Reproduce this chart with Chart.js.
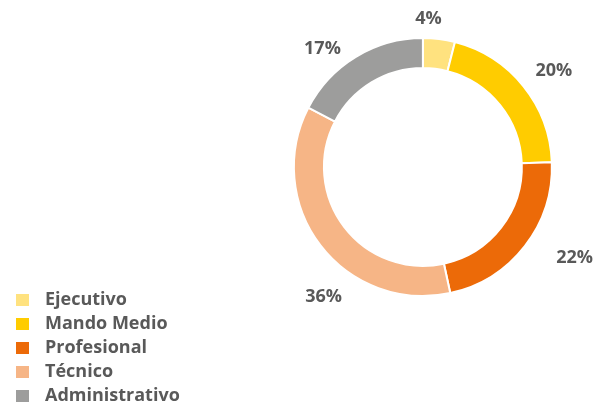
<!DOCTYPE html>
<html>
<head>
<meta charset="utf-8">
<script src="https://cdn.jsdelivr.net/npm/chart.js@4/dist/chart.umd.min.js"></script>
<style>
  html, body { margin: 0; padding: 0; background: #ffffff; overflow: hidden; }
  #wrap { width: 656px; height: 411px; position: relative; }
</style>
</head>
<body>
<div id="wrap"><canvas id="c"></canvas></div>
<script>
// ---- data ----
const categories = ['Ejecutivo', 'Mando Medio', 'Profesional', 'Técnico', 'Administrativo'];
const shares = [4.0, 20.4, 22.2, 36.0, 17.4];
const colors = ['#FFE27F', '#FFCC00', '#EC6A08', '#F6B586', '#9D9D9C'];
// label nudges (style only), px relative to the radial anchor
const labelNudge = [[-13, 0], [15, -3], [34, 0], [19, 39], [-23, 9]];

const TEXT = '#595959';
const FONT = "'Open Sans', 'Noto Sans', sans-serif";

function swatch(color) {
  const cv = document.createElement('canvas');
  cv.width = 20; cv.height = 12;
  const g = cv.getContext('2d');
  g.fillStyle = color;
  g.fillRect(0, 0, 13, 12);
  return cv;
}

const labelPlugin = {
  id: 'outLabels',
  afterDatasetsDraw(chart) {
    const ctx = chart.ctx;
    const meta = chart.getDatasetMeta(0);
    ctx.save();
    ctx.font = `bold 18px ${FONT}`;
    ctx.fillStyle = TEXT;
    ctx.textAlign = 'center';
    ctx.textBaseline = 'middle';
    meta.data.forEach((arc, i) => {
      const p = arc.getProps(['x', 'y', 'startAngle', 'endAngle', 'outerRadius'], true);
      const mid = (p.startAngle + p.endAngle) / 2;
      const r = p.outerRadius + 20;
      const x = p.x + Math.cos(mid) * r + labelNudge[i][0];
      const y = p.y + Math.sin(mid) * r + labelNudge[i][1];
      ctx.fillText(Math.round(shares[i]) + '%', x, y);
    });
    ctx.restore();
  }
};

new Chart(document.getElementById('c'), {
  type: 'doughnut',
  data: {
    labels: categories,
    datasets: [{
      data: shares,
      backgroundColor: colors,
      borderColor: '#ffffff',
      borderWidth: 2,
      radius: 129,
      cutout: '76.7%'
    }]
  },
  options: {
    responsive: true,
    maintainAspectRatio: false,
    animation: false,
    layout: { padding: { left: 10, right: 0, top: 0, bottom: 0 } },
    plugins: {
      tooltip: { enabled: false },
      // invisible spacer box under the ring
      title: {
        display: true, text: '', position: 'bottom', fullSize: false,
        font: { size: 12, lineHeight: 1.2 }, padding: { top: 62.6, bottom: 0 }
      },
      legend: {
        position: 'left',
        align: 'end',
        labels: {
          usePointStyle: true,
          pointStyleWidth: 20,
          boxHeight: 12,
          padding: 6,
          color: TEXT,
          font: { family: FONT, size: 18, weight: 'bold' },
          generateLabels(chart) {
            return chart.data.labels.map((label, i) => ({
              text: label,
              fillStyle: colors[i],
              strokeStyle: colors[i],
              fontColor: TEXT,
              lineWidth: 0,
              pointStyle: swatch(colors[i]),
              hidden: false,
              index: i
            }));
          }
        }
      }
    }
  },
  plugins: [labelPlugin]
});
</script>
</body>
</html>
